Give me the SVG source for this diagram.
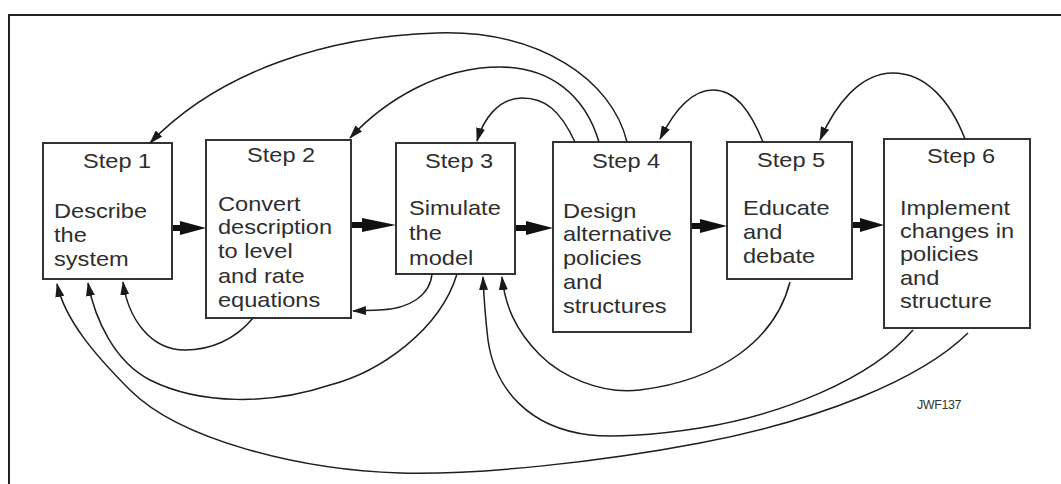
<svg xmlns="http://www.w3.org/2000/svg" width="1061" height="484" viewBox="0 0 1061 484">
  <defs>
    <marker id="tip" markerUnits="userSpaceOnUse" markerWidth="14" markerHeight="9" refX="13" refY="4.5" orient="auto">
      <path d="M0,0 L14,4.5 L0,9 z" fill="#1a1a1a"/>
    </marker>
    <style>
      .box { fill: #ffffff; stroke: #333333; stroke-width: 2; }
      .lbl { font-family: "Liberation Sans", Arial, sans-serif; font-size: 20px; fill: #2e2e2e; }
      .fb { fill: none; stroke: #1e1e1e; stroke-width: 1.5; marker-end: url(#tip); }
      .fw { fill: #111111; }
      .frame { fill: none; stroke: #222222; stroke-width: 2; }
    </style>
  </defs>

  <rect x="0" y="0" width="1061" height="484" fill="#ffffff"/>
  <path class="frame" d="M9,484 L9,15 L1061,15"/>

  <!-- process steps; labels are set in a slightly widened face -->
  <g id="step1">
    <rect class="box" x="43" y="143" width="129" height="136"/>
    <text class="lbl" transform="translate(83,168) scale(1.18,1)">Step 1</text>
    <text class="lbl" transform="translate(54,218) scale(1.18,1)">Describe</text>
    <text class="lbl" transform="translate(54,242) scale(1.18,1)">the</text>
    <text class="lbl" transform="translate(54,266) scale(1.18,1)">system</text>
  </g>
  <g id="step2">
    <rect class="box" x="206" y="140" width="145" height="178"/>
    <text class="lbl" transform="translate(247,162) scale(1.18,1)">Step 2</text>
    <text class="lbl" transform="translate(218,211) scale(1.18,1)">Convert</text>
    <text class="lbl" transform="translate(218,234) scale(1.18,1)">description</text>
    <text class="lbl" transform="translate(218,258) scale(1.18,1)">to level</text>
    <text class="lbl" transform="translate(218,283) scale(1.18,1)">and rate</text>
    <text class="lbl" transform="translate(218,307) scale(1.18,1)">equations</text>
  </g>
  <g id="step3">
    <rect class="box" x="396" y="143" width="119" height="131"/>
    <text class="lbl" transform="translate(425,168) scale(1.18,1)">Step 3</text>
    <text class="lbl" transform="translate(409,215) scale(1.18,1)">Simulate</text>
    <text class="lbl" transform="translate(409,240) scale(1.18,1)">the</text>
    <text class="lbl" transform="translate(409,265) scale(1.18,1)">model</text>
  </g>
  <g id="step4">
    <rect class="box" x="553" y="142" width="138" height="190"/>
    <text class="lbl" transform="translate(592,168) scale(1.18,1)">Step 4</text>
    <text class="lbl" transform="translate(563,218) scale(1.18,1)">Design</text>
    <text class="lbl" transform="translate(563,241) scale(1.18,1)">alternative</text>
    <text class="lbl" transform="translate(563,265) scale(1.18,1)">policies</text>
    <text class="lbl" transform="translate(563,289) scale(1.18,1)">and</text>
    <text class="lbl" transform="translate(563,313) scale(1.18,1)">structures</text>
  </g>
  <g id="step5">
    <rect class="box" x="727" y="142" width="125" height="137"/>
    <text class="lbl" transform="translate(757,167) scale(1.18,1)">Step 5</text>
    <text class="lbl" transform="translate(743,215) scale(1.18,1)">Educate</text>
    <text class="lbl" transform="translate(743,239) scale(1.18,1)">and</text>
    <text class="lbl" transform="translate(743,263) scale(1.18,1)">debate</text>
  </g>
  <g id="step6">
    <rect class="box" x="884" y="139" width="146" height="189"/>
    <text class="lbl" transform="translate(927,163) scale(1.18,1)">Step 6</text>
    <text class="lbl" transform="translate(900,215) scale(1.18,1)">Implement</text>
    <text class="lbl" transform="translate(900,238) scale(1.18,1)">changes in</text>
    <text class="lbl" transform="translate(900,261) scale(1.18,1)">policies</text>
    <text class="lbl" transform="translate(900,285) scale(1.18,1)">and</text>
    <text class="lbl" transform="translate(900,308) scale(1.18,1)">structure</text>
  </g>

  <g id="connectors">
    <!-- forward flow: heavy arrows -->
    <path class="fw" d="M173,225 L180,225 L180,221 L206,228 L180,235 L180,231 L173,231 z"/>
    <path class="fw" d="M352,222 L362,222 L362,218 L396,225 L362,232 L362,228 L352,228 z"/>
    <path class="fw" d="M516,225 L526,225 L526,221 L553,228 L526,235 L526,231 L516,231 z"/>
    <path class="fw" d="M692,223 L700,223 L700,219 L727,226 L700,233 L700,229 L692,229 z"/>
    <path class="fw" d="M853,222 L860,222 L860,218 L884,225 L860,232 L860,228 L853,228 z"/>

    <!-- feedback loops over the top -->
    <path class="fb" d="M627,142 C612,80 540,30 437,33 C330,36 220,70 150,143"/>
    <path class="fb" d="M599,142 C585,95 550,67 500,67 C440,67 385,100 350,138"/>
    <path class="fb" d="M575,142 C560,110 545,98 522,98 C498,98 483,120 477,141"/>
    <path class="fb" d="M763,142 C750,110 735,90 713,90 C690,90 672,115 660,139"/>
    <path class="fb" d="M965,139 C950,100 925,73 893,73 C860,73 835,105 820,140"/>

    <!-- feedback loops underneath -->
    <path class="fb" d="M253,318 C235,340 210,350 185,350 C150,350 128,318 123,282"/>
    <path class="fb" d="M432,274 C430,295 410,309 380,310 L353,311"/>
    <path class="fb" d="M457,274 C440,330 380,372 330,385 C270,405 200,405 150,380 C115,362 95,320 88,283"/>
    <path class="fb" d="M968,333 C920,380 820,420 700,443 C600,462 480,475 400,473 C300,470 180,440 130,390 C95,355 65,320 57,284"/>
    <path class="fb" d="M913,330 C870,380 780,415 700,428 C650,436 610,437 590,435 C530,428 495,390 488,340 C485,315 484,300 483,277"/>
    <path class="fb" d="M790,282 C775,340 720,380 640,390 C600,395 560,375 540,355 C515,330 505,305 502,277"/>
  </g>

  <text x="917" y="409" font-family="'Liberation Sans', Arial, sans-serif" font-size="12.5" fill="#333333" letter-spacing="-0.4">JWF137</text>
</svg>
